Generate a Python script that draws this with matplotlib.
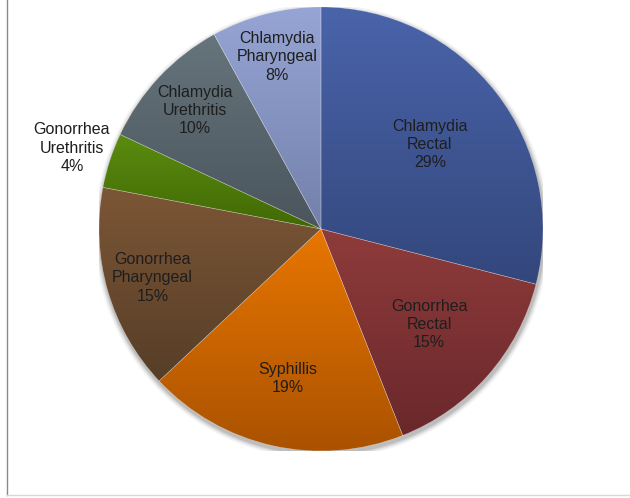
import numpy as np
import matplotlib
matplotlib.use("Agg")
import matplotlib.pyplot as plt
from matplotlib.colors import LinearSegmentedColormap
from matplotlib.lines import Line2D

categories = ["Chlamydia\nRectal", "Gonorrhea\nRectal", "Syphillis", "Gonorrhea\nPharyngeal",
              "Gonorrhea\nUrethritis", "Chlamydia\nUrethritis", "Chlamydia\nPharyngeal"]
values = [29, 15, 19, 15, 4, 10, 8]

top_colors = ["#4a64aa", "#8f3b3b", "#e87600", "#7c5636", "#5b8c10", "#66747c", "#97a5d6"]
bottom_colors = ["#33477c", "#6a282b", "#aa5200", "#563e27", "#416904", "#4a555c", "#7280aa"]
label_dist = [0.62, 0.65, 0.69, 0.79, 1.18, 0.78, 0.80]

W, H, DPI = 630, 498, 100
fig = plt.figure(figsize=(W / DPI, H / DPI), dpi=DPI)
fig.patch.set_facecolor("white")

cx, cy, r = 321, 229, 222
ax = fig.add_axes([(cx - r) / W, (H - cy - r) / H, 2 * r / W, 2 * r / H])
ax.axis("off")

# soft shadow
for rr, a in [(1.025, 0.04), (1.018, 0.06), (1.012, 0.08), (1.006, 0.10)]:
    ax.add_patch(plt.Circle((0.004, -0.012), rr, color="black", alpha=a, lw=0, zorder=0))

wedges, _ = ax.pie(values, startangle=90, counterclock=False, radius=1,
                   colors=top_colors, wedgeprops=dict(linewidth=0.4, edgecolor=(1, 1, 1, 0.35)))

grad = np.linspace(0, 1, 256).reshape(-1, 1)
for w, tc, bc in zip(wedges, top_colors, bottom_colors):
    ext = w.get_path().get_extents()
    cmap = LinearSegmentedColormap.from_list("g", [tc, bc])
    im = ax.imshow(grad, cmap=cmap, aspect="auto",
                   extent=[ext.x0, ext.x1, ext.y0, ext.y1], origin="upper", zorder=2)
    im.set_clip_path(w)
    w.set_zorder(3)
    w.set_facecolor("none")

total = sum(values)
start = 90.0
for lab, v, d in zip(categories, values, label_dist):
    ang = start - 360.0 * v / total / 2
    start -= 360.0 * v / total
    t = np.deg2rad(ang)
    ax.text(d * np.cos(t), d * np.sin(t), f"{lab}\n{v}%", ha="center", va="center",
            fontsize=11.5, family="Liberation Sans", color="#1e1e1e", linespacing=1.28,
            zorder=5, clip_on=False)

ax.set_xlim(-1, 1)
ax.set_ylim(-1, 1)
ax.set_aspect("auto")

# frame lines
fig.add_artist(Line2D([6.5 / W, 6.5 / W], [1, 3.5 / H], color="#8a8a8a", lw=1))
fig.add_artist(Line2D([6.5 / W, 1], [3.5 / H, 3.5 / H], color="#d8d8d8", lw=1))

fig.savefig("out.png", dpi=DPI)
